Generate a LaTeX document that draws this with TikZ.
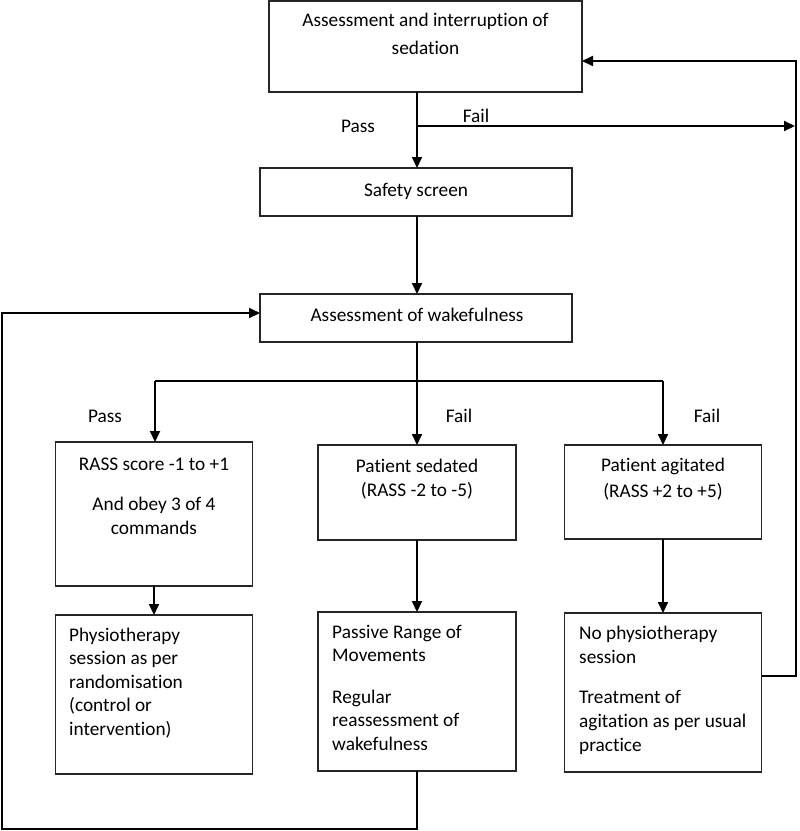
\documentclass[tikz,border=0pt]{standalone}
\usepackage{fontspec}
\setmainfont{Carlito}[Ligatures={NoCommon}]
\usetikzlibrary{arrows.meta}
\begin{document}
\begin{tikzpicture}[x=1pt,y=-1pt,
  box/.style={draw=black!85, line width=1.4pt, inner sep=0pt, outer sep=0pt},
  conn/.style={line width=2pt, draw=black, -{Triangle[length=11pt,width=10pt]}},
  wire/.style={line width=2pt, draw=black},
  txt/.style={inner sep=0pt, font=\fontsize{19.3}{23.5}\selectfont}]
\useasboundingbox (0,0) rectangle (800,831);
% boxes
\node[box, minimum width=313pt, minimum height=91pt] (A) at (425.5,46.5) {};
\node[box, minimum width=312pt, minimum height=48pt] (S) at (416,192) {};
\node[box, minimum width=312pt, minimum height=48pt] (W) at (416,318) {};
\node[box, minimum width=197pt, minimum height=144pt] (R) at (154,514) {};
\node[box, minimum width=198pt, minimum height=95pt] (D) at (417,492.5) {};
\node[box, minimum width=197pt, minimum height=94pt] (G) at (663,492) {};
\node[box, minimum width=197pt, minimum height=159pt] (P) at (154,694.5) {};
\node[box, minimum width=198pt, minimum height=159pt] (M) at (417,691.5) {};
\node[box, minimum width=197pt, minimum height=159pt] (N) at (663,692.5) {};
% texts
\node[txt, anchor=base] (a1) at (425.5,26) {Assessment and interruption of};
\node[txt, anchor=base] (a2) at (425.5,54) {sedation};
\node[txt, anchor=base] (s1) at (416,196) {Safety screen};
\node[txt, anchor=base] (w1) at (417,321) {Assessment of wakefulness};
\node[txt, anchor=base] (r1) at (154,470) {RASS score -1 to +1};
\node[txt, anchor=base] (r2) at (154,510) {And obey 3 of 4};
\node[txt, anchor=base] (r3) at (154,534) {commands};
\node[txt, anchor=base] (d1) at (417,472) {Patient sedated};
\node[txt, anchor=base] (d2) at (417,496) {(RASS -2 to -5)};
\node[txt, anchor=base] (g1) at (663,471) {Patient agitated};
\node[txt, anchor=base] (g2) at (663,497) {(RASS +2 to +5)};
\node[txt, anchor=base west] (p1) at (69,641) {Physiotherapy};
\node[txt, anchor=base west] (p2) at (69,664) {session as per};
\node[txt, anchor=base west] (p3) at (69,688) {randomisation};
\node[txt, anchor=base west] (p4) at (69,711) {(control or};
\node[txt, anchor=base west] (p5) at (69,735) {intervention)};
\node[txt, anchor=base west] (m1) at (332,638) {Passive Range of};
\node[txt, anchor=base west] (m2) at (332,661) {Movements};
\node[txt, anchor=base west] (m3) at (332,703) {Regular};
\node[txt, anchor=base west] (m4) at (332,726) {reassessment of};
\node[txt, anchor=base west] (m5) at (332,750) {wakefulness};
\node[txt, anchor=base west] (n1) at (579,639) {No physiotherapy};
\node[txt, anchor=base west] (n2) at (579,663) {session};
\node[txt, anchor=base west] (n3) at (579,703) {Treatment of};
\node[txt, anchor=base west] (n4) at (579,727) {agitation as per usual};
\node[txt, anchor=base west] (n5) at (579,751) {practice};
% labels
\node[txt, anchor=base] (l1) at (358,132) {Pass};
\node[txt, anchor=base] (l2) at (476,122) {Fail};
\node[txt, anchor=base] (l3) at (105,422) {Pass};
\node[txt, anchor=base] (l4) at (459,422) {Fail};
\node[txt, anchor=base] (l5) at (707,422) {Fail};
% coordinates
\coordinate (fj) at (417,126);
\coordinate (fr) at (795,126);
\coordinate (rb) at (796,676);
\coordinate (rt) at (796,61);
\coordinate (bl) at (155,381);
\coordinate (br) at (663,381);
\coordinate (lb) at (2,829);
\coordinate (lt) at (2,313);
\coordinate (mb) at (417,829);
% connectors
\draw[conn] (A.south -| fj) -- (S.north -| fj);
\draw[conn] (fj) -- (fr);
\draw[conn] (S.south -| fj) -- (W.north -| fj);
\draw[conn] (W.south -| fj) -- (D.north -| fj);
\draw[wire] (bl) -- (br);
\draw[conn] (bl) -- (R.north -| bl);
\draw[conn] (br) -- (G.north -| br);
\draw[conn] (R.south) -- (P.north);
\draw[conn] (D.south) -- (M.north);
\draw[conn] (G.south) -- (N.north);
\draw[conn] (N.east |- rb) -- (rb) -- (rt) -- (A.east |- rt);
\draw[conn] (M.south) -- (mb) -- (lb) -- (lt) -- (W.west |- lt);
\end{tikzpicture}
\end{document}
